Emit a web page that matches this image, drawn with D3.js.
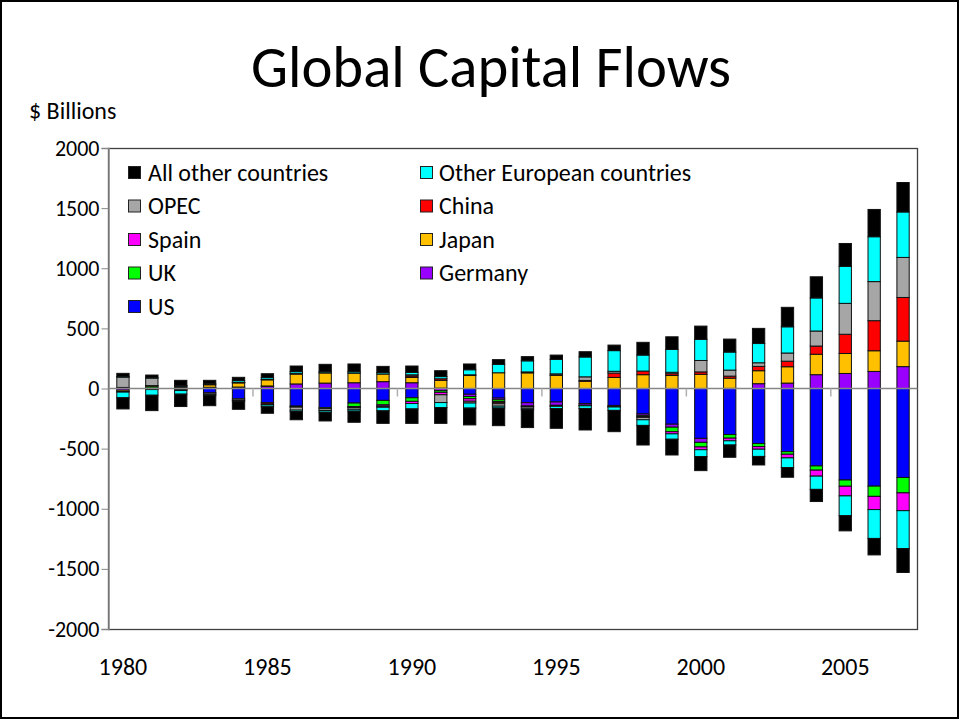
<!DOCTYPE html>
<html>
<head>
<meta charset="utf-8">
<script src="https://cdn.jsdelivr.net/npm/d3@7"></script>
<style>
  html, body { margin: 0; padding: 0; background: #fff; }
  svg { display: block; }
  text { font-family: Carlito, Calibri, Lato, "Noto Sans", sans-serif; fill: #000; }
</style>
</head>
<body>
<script>
// ---------------- DATA ($ billions) ----------------
const years = d3.range(1980, 2008);
const yTicks = [2000, 1500, 1000, 500, 0, -500, -1000, -1500, -2000];
const xLabelYears = [1980, 1985, 1990, 1995, 2000, 2005];

const US      = [2, 5, -5, -36, -85, -118, -147, -160, -121, -99, -77, 3, -48, -80, -118, -112, -125, -141, -212, -297, -415, -383, -458, -525, -644, -761, -812, -740];
const Germany = [-14, -4, 5, 5, 10, 18, 38, 45, 48, 57, 48, -18, -19, -14, -28, -28, -14, -10, -14, -25, -33, 1, 40, 45, 115, 125, 142, 182];
const UK      = [7, 14, 8, 5, 2, 3, -1, -8, -29, -37, -30, -14, -18, -15, -2, -6, -3, -2, -7, -37, -38, -30, -25, -22, -35, -52, -85, -128];
const Japan   = [-11, 5, 7, 21, 35, 51, 82, 84, 79, 63, 44, 65, 108, 131, 130, 110, 60, 92, 115, 108, 118, 85, 108, 136, 170, 166, 172, 212];
const Spain   = [-5, -5, -4, -3, 2, 3, 4, 0, -4, -11, -18, -20, -21, -6, -6, -2, -2, -1, -7, -18, -23, -22, -22, -30, -50, -80, -110, -148];
const China   = [0, 0, 0, 0, 1, -11, -7, 0, -4, -4, 12, 13, 6, -12, 8, 2, 7, 36, 30, 15, 20, 17, 36, 46, 68, 160, 250, 363];
const OPEC    = [85, 62, -8, -12, -12, -8, -25, -15, -15, -5, 10, -65, -15, -20, -15, 10, 30, 15, -20, 12, 95, 50, 30, 68, 125, 257, 325, 333];
// Other European countries: surplus and deficit groups
const OtherEuropeSurplus = [6, 6, 5, 8, 15, 15, 16, 10, 12, 12, 20, 18, 42, 70, 92, 120, 165, 172, 133, 190, 175, 150, 160, 218, 275, 308, 373, 378];
const OtherEuropeDeficit = [-47, -47, -30, -8, -8, -15, -12, -14, -15, -30, -45, -42, -42, -15, -8, -20, -22, -28, -47, -45, -57, -35, -60, -80, -110, -165, -240, -315];
// All other countries: surplus and deficit groups
const AllOtherSurplus = [26, 20, 43, 29, 28, 33, 47, 62, 65, 52, 53, 49, 48, 39, 35, 36, 44, 46, 106, 105, 111, 108, 126, 162, 176, 190, 227, 245];
const AllOtherDeficit = [-93, -128, -103, -84, -68, -54, -68, -73, -93, -104, -120, -131, -140, -147, -148, -163, -179, -177, -163, -131, -117, -102, -71, -81, -101, -126, -137, -199];

const seriesKeys = ["US", "Germany", "UK", "Japan", "Spain", "China", "OPEC", "OEs", "OEd", "AOs", "AOd"];
const seriesData = { US, Germany, UK, Japan, Spain, China, OPEC, OEs: OtherEuropeSurplus, OEd: OtherEuropeDeficit, AOs: AllOtherSurplus, AOd: AllOtherDeficit };
const colors = {
  US: "#0000FF", Germany: "#9900FF", UK: "#00FF00", Japan: "#FFC000", Spain: "#FF00FF",
  China: "#FF0000", OPEC: "#A6A6A6", OEs: "#00FFFF", OEd: "#00FFFF", AOs: "#000000", AOd: "#000000"
};
const legendCol1 = [["All other countries", "#000000"], ["OPEC", "#A6A6A6"], ["Spain", "#FF00FF"], ["UK", "#00FF00"], ["US", "#0000FF"]];
const legendCol2 = [["Other European countries", "#00FFFF"], ["China", "#FF0000"], ["Japan", "#FFC000"], ["Germany", "#9900FF"]];

// ---------------- CHART ----------------
const W = 960, H = 721;
const px0 = 108.5, px1 = 917.5, py0 = 148, py1 = 629;

const svg = d3.select("body").append("svg").attr("width", W).attr("height", H);

svg.append("rect").attr("x", 1).attr("y", 1).attr("width", W - 3).attr("height", H - 4)
  .attr("fill", "#fff").attr("stroke", "#000").attr("stroke-width", 2);

svg.append("text").attr("x", 491).attr("y", 87).attr("text-anchor", "middle")
  .style("font-size", "58.7px").text("Global Capital Flows");

svg.append("text").attr("x", 29).attr("y", 119).style("font-size", "24px").text("$ Billions");

const x = d3.scaleBand().domain(years).range([px0, px1]).paddingInner(0.574).paddingOuter(0.287);
const y = d3.scaleLinear().domain([-2000, 2000]).range([py1, py0]);

// plot frame
svg.append("rect").attr("x", px0).attr("y", py0 + 0.5).attr("width", px1 - px0).attr("height", py1 - py0)
  .attr("fill", "none").attr("stroke", "#404040").attr("stroke-width", 1.3);

// y axis
const yAxis = d3.axisLeft(y).tickValues(yTicks).tickSize(7).tickPadding(2).tickFormat(d => String(d));
const gy = svg.append("g").attr("transform", `translate(${px0},0)`).call(yAxis);
gy.select(".domain").attr("stroke", "#868686").attr("stroke-width", 1.5);
gy.selectAll(".tick line").attr("stroke", "#868686");
gy.selectAll(".tick text").style("font-size", "22px").style("font-family", "Carlito, Calibri, Lato, sans-serif").attr("fill", "#000");

// stacked bars
const rows = years.map((yr, i) => {
  const r = { year: yr };
  seriesKeys.forEach(k => r[k] = seriesData[k][i]);
  return r;
});
const stacked = d3.stack().keys(seriesKeys).offset(d3.stackOffsetDiverging)(rows);

const gBars = svg.append("g");
stacked.forEach(s => {
  gBars.selectAll(null).data(s.filter(d => Math.abs(d[1] - d[0]) > 0.5)).enter().append("rect")
    .attr("x", d => x(d.data.year))
    .attr("width", x.bandwidth())
    .attr("y", d => y(Math.max(d[0], d[1])))
    .attr("height", d => Math.abs(y(d[0]) - y(d[1])))
    .attr("fill", colors[s.key])
    .attr("stroke", "#111")
    .attr("stroke-width", 1);
});

// zero line and category ticks
svg.append("line").attr("x1", px0).attr("x2", px1).attr("y1", y(0)).attr("y2", y(0))
  .attr("stroke", "#868686").attr("stroke-width", 1.5);
const step = x.step();
d3.range(0, 28, 5).slice(1).forEach(i => {
  const xx = px0 + i * step;
  svg.append("line").attr("x1", xx).attr("x2", xx).attr("y1", y(0)).attr("y2", y(0) + 8)
    .attr("stroke", "#b0b0b0").attr("stroke-width", 1.5);
});

// x labels
svg.append("g").selectAll("text").data(xLabelYears).enter().append("text")
  .attr("x", d => x(d) + x.bandwidth() / 2).attr("y", 675).attr("text-anchor", "middle")
  .style("font-size", "24px").text(d => d);

// legend
const rowY = [172.5, 206, 239.5, 273, 306.5];
function drawLegend(items, sx, tx) {
  const g = svg.append("g");
  items.forEach((it, i) => {
    g.append("rect").attr("x", sx).attr("y", rowY[i] - 6).attr("width", 12).attr("height", 12)
      .attr("fill", it[1]).attr("stroke", "#222").attr("stroke-width", 1);
    g.append("text").attr("x", tx).attr("y", rowY[i]).attr("dy", "0.35em")
      .style("font-size", "24px").text(it[0]);
  });
}
drawLegend(legendCol1, 128.5, 148);
drawLegend(legendCol2, 420.5, 439);
</script>
</body>
</html>
